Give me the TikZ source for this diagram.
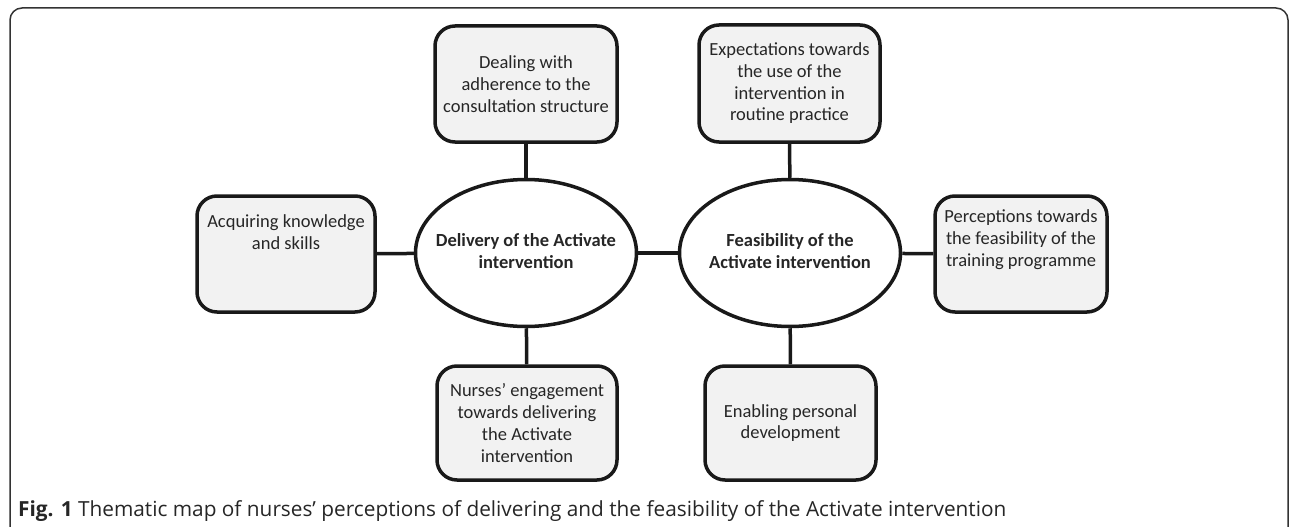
\documentclass[tikz,border=0pt]{standalone}
\usepackage{fontspec}
\setmainfont{Carlito}
\newfontfamily\capfont{Open Sans}
\usetikzlibrary{shapes.geometric}
\definecolor{boxfill}{HTML}{F2F2F2}
\definecolor{frameclr}{HTML}{333333}
\newcommand{\centertext}[1]{\makebox[0pt][c]{\begin{tabular}{@{}c@{}}#1\end{tabular}}}
\tikzset{
  theme/.style={draw=black!90, line width=3.5pt, fill=boxfill, rounded corners=20pt,
    inner sep=0pt, align=center, font=\fontsize{18.5}{21.7}\selectfont, text=black!85},
  core/.style={draw=black!90, line width=3.5pt, fill=white, ellipse, inner sep=0pt,
    minimum width=221pt, minimum height=147pt,
    font=\fontsize{18.5}{21.7}\selectfont\bfseries, text=black!85},
  link/.style={draw=black!90, line width=3.5pt},
}
\begin{document}
\begin{tikzpicture}[x=1pt,y=-1pt]
\useasboundingbox (0,0) rectangle (1290,527);
\draw[frameclr, line width=1.5pt, rounded corners=12pt] (10,540) -- (10,8) -- (1288,8) -- (1288,540);
\node[core] (del) at (526,253) {\centertext{Delivery of the Activate\\intervention}};
\node[core] (fea) at (790,253) {\centertext{Feasibility of the\\Activate intervention}};
\node[theme, minimum width=178pt, minimum height=116pt] (acq) at (286,254) {Acquiring knowledge\\and skills\\[21.7pt]};
\node[theme, minimum width=182pt, minimum height=116pt] (dea) at (526,84) {Dealing with\\adherence to the\\consultation structure};
\node[theme, minimum width=181pt, minimum height=117pt] (exp) at (789.5,83.5) {Expectations towards\\the use of the\\intervention in\\routine practice};
\node[theme, minimum width=172pt, minimum height=116pt] (per) at (1021,254) {Perceptions towards\\the feasibility of the\\training programme\\[10pt]};
\node[theme, minimum width=180pt, minimum height=114pt] (nur) at (527,423) {Nurses’ engagement\\towards delivering\\the Activate\\intervention};
\node[theme, minimum width=171pt, minimum height=114pt] (ena) at (790.5,423) {Enabling personal\\development};
\draw[link] (del) -- (fea);
\draw[link] (acq) -- (del);
\draw[link] (dea) -- (del);
\draw[link] (exp) -- (fea);
\draw[link] (fea) -- (per);
\draw[link] (del) -- (nur);
\draw[link] (fea) -- (ena);
\node[anchor=base west, inner sep=0pt, font=\capfont\fontsize{20.8}{24}\selectfont, text=black!85] (cap) at (18,516) {\textbf{Fig. 1} Thematic map of nurses’ perceptions of delivering and the feasibility of the Activate intervention};
\end{tikzpicture}
\end{document}
